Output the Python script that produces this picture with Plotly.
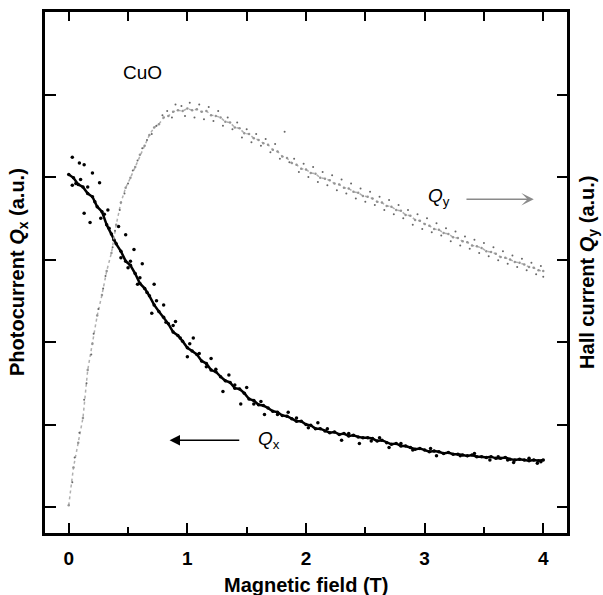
import numpy as np
import plotly.graph_objects as go

# Magnetic field sampling (T)
field_T = np.round(np.arange(0, 4.0001, 0.04), 2)

# Photocurrent Q_x (a.u.)
qx_values = [4.03, 3.99, 3.91, 3.88, 3.80, 3.76, 3.64, 3.58, 3.42, 3.31,
             3.19, 3.10, 2.98, 2.93, 2.83, 2.71, 2.65, 2.56, 2.45, 2.37,
             2.30, 2.22, 2.12, 2.08, 2.01, 1.93, 1.89, 1.85, 1.77, 1.74,
             1.66, 1.64, 1.58, 1.53, 1.51, 1.44, 1.43, 1.38, 1.31, 1.29,
             1.24, 1.23, 1.20, 1.16, 1.15, 1.11, 1.10, 1.07, 1.04, 1.04,
             1.00, 0.99, 0.95, 0.95, 0.92, 0.90, 0.91, 0.88, 0.89, 0.86,
             0.87, 0.85, 0.84, 0.84, 0.83, 0.80, 0.81, 0.78, 0.76, 0.77,
             0.74, 0.74, 0.72, 0.70, 0.71, 0.69, 0.67, 0.68, 0.67, 0.65,
             0.66, 0.64, 0.64, 0.63, 0.62, 0.63, 0.61, 0.61, 0.60, 0.61,
             0.59, 0.59, 0.60, 0.58, 0.57, 0.58, 0.57, 0.56, 0.57, 0.56,
             0.57]

# Scattered Q_x points around the main band
qx_scatter_x = [0.03, 0.09, 0.13, 0.20, 0.26, 0.03, 0.13, 0.33, 0.18, 0.30,
                0.42, 0.48, 0.55, 0.62, 0.50, 0.58, 0.72, 0.80, 0.70, 0.90,
                1.05, 1.00, 1.20, 1.35, 1.30, 1.50, 1.45, 1.65, 1.85, 2.10,
                2.30, 2.45, 2.70, 3.10, 3.55, 3.75, 3.95,
                0.06, 0.10, 0.16, 0.22, 0.27, 0.34, 0.38, 0.44, 0.52, 0.60,
                0.66, 0.74, 0.82, 0.88, 0.94, 1.02, 1.10, 1.16, 1.24, 1.40,
                1.56, 1.62, 1.76, 1.92, 2.02, 2.18, 2.36, 2.55, 2.62, 2.80,
                2.90, 3.05, 3.30, 3.42, 3.62, 3.70, 3.88, 3.98]
qx_scatter_y = [4.24, 4.17, 4.15, 4.05, 3.93, 3.90, 3.56, 3.60, 3.45, 3.55,
                3.40, 3.30, 3.12, 2.95, 2.90, 2.70, 2.70, 2.45, 2.35, 2.25,
                2.05, 1.82, 1.80, 1.60, 1.40, 1.45, 1.25, 1.12, 1.15, 1.02,
                0.81, 0.77, 0.72, 0.62, 0.57, 0.54, 0.53,
                3.92, 3.97, 3.88, 3.70, 3.50, 3.38, 3.24, 3.02, 2.98, 2.78,
                2.60, 2.50, 2.24, 2.20, 2.05, 1.98, 1.86, 1.70, 1.67, 1.48,
                1.25, 1.28, 1.12, 1.08, 0.96, 0.95, 0.89, 0.80, 0.84, 0.77,
                0.69, 0.71, 0.62, 0.65, 0.61, 0.57, 0.59, 0.55]

# Hall current Q_y (a.u.)
qy_values = [0.02, 0.48, 0.78, 1.08, 1.66, 1.98, 2.32, 2.57, 2.86, 3.08,
             3.42, 3.69, 3.87, 3.99, 4.12, 4.27, 4.38, 4.51, 4.60, 4.64,
             4.72, 4.74, 4.79, 4.81, 4.80, 4.83, 4.81, 4.82, 4.79, 4.80,
             4.75, 4.74, 4.72, 4.67, 4.66, 4.60, 4.59, 4.53, 4.52, 4.47,
             4.45, 4.41, 4.39, 4.33, 4.31, 4.25, 4.23, 4.17, 4.15, 4.10,
             4.09, 4.05, 4.04, 3.99, 3.98, 3.96, 3.92, 3.91, 3.87, 3.86,
             3.82, 3.81, 3.77, 3.76, 3.74, 3.70, 3.69, 3.65, 3.64, 3.60,
             3.59, 3.54, 3.53, 3.48, 3.47, 3.43, 3.41, 3.37, 3.36, 3.32,
             3.31, 3.27, 3.26, 3.22, 3.21, 3.17, 3.16, 3.14, 3.10, 3.09,
             3.07, 3.03, 3.02, 3.00, 2.97, 2.96, 2.94, 2.91, 2.90, 2.87,
             2.86]

# Scattered Q_y specks
qy_scatter_x = [0.03, 0.05, 0.09, 0.13, 0.15, 0.19, 0.21, 0.25, 0.29, 0.31,
                0.37, 0.39, 0.43, 0.47, 0.50, 0.54, 0.58, 0.62, 0.66, 0.70,
                0.74, 0.79, 0.83, 0.87, 0.90, 0.95, 0.98, 1.02, 1.06, 1.10,
                1.14, 1.18, 1.22, 1.26, 1.30, 1.34, 1.38, 1.42, 1.46, 1.50,
                1.54, 1.58, 1.62, 1.66, 1.70, 1.74, 1.78, 1.82, 1.86, 1.90,
                1.94, 1.98, 2.02, 2.06, 2.10, 2.14, 2.18, 2.22, 2.26, 2.30,
                2.34, 2.38, 2.42, 2.46, 2.50, 2.54, 2.58, 2.62, 2.66, 2.70,
                2.74, 2.78, 2.82, 2.86, 2.90, 2.94, 2.98, 3.02, 3.06, 3.10,
                3.14, 3.18, 3.22, 3.26, 3.30, 3.34, 3.38, 3.42, 3.46, 3.50,
                3.54, 3.58, 3.62, 3.66, 3.70, 3.74, 3.78, 3.82, 3.86, 3.90,
                3.94, 3.98, 4.00]
qy_scatter_y = [0.30, 0.60, 0.90, 1.30, 1.50, 1.85, 2.10, 2.40, 2.65, 2.80,
                3.15, 3.35, 3.60, 3.80, 3.92, 4.08, 4.20, 4.35, 4.45, 4.52,
                4.62, 4.75, 4.80, 4.72, 4.88, 4.86, 4.74, 4.90, 4.72, 4.88,
                4.70, 4.85, 4.68, 4.80, 4.62, 4.72, 4.58, 4.66, 4.48, 4.58,
                4.42, 4.52, 4.38, 4.46, 4.30, 4.40, 4.22, 4.55, 4.18, 4.22,
                4.06, 4.16, 4.00, 4.12, 3.94, 4.06, 3.90, 4.02, 3.84, 3.97,
                3.80, 3.92, 3.74, 3.86, 3.70, 3.82, 3.66, 3.76, 3.60, 3.72,
                3.55, 3.66, 3.50, 3.60, 3.42, 3.55, 3.37, 3.50, 3.33, 3.44,
                3.29, 3.38, 3.22, 3.34, 3.17, 3.28, 3.13, 3.24, 3.08, 3.20,
                3.04, 3.15, 2.99, 3.10, 2.95, 3.05, 2.91, 3.01, 2.87, 2.96,
                2.82, 2.92, 2.79]

x_ticks = [0, 1, 2, 3, 4]
y_ticks = [0, 1, 2, 3, 4, 5]

FONT = "Liberation Sans, Arial, sans-serif"

fig = go.Figure()

fig.add_trace(go.Scatter(x=field_T, y=qy_values, mode="lines+markers",
                         line=dict(color="#b0b0b0", width=1.5, dash="dot"),
                         marker=dict(color="#959595", size=2.5),
                         yaxis="y2", showlegend=False, hoverinfo="skip"))
fig.add_trace(go.Scatter(x=qy_scatter_x, y=qy_scatter_y, mode="markers",
                         marker=dict(color="#666666", size=2),
                         yaxis="y2", showlegend=False, hoverinfo="skip"))
fig.add_trace(go.Scatter(x=field_T, y=qx_values, mode="lines+markers",
                         line=dict(color="black", width=2.5),
                         marker=dict(color="black", size=3.5),
                         showlegend=False, hoverinfo="skip"))
fig.add_trace(go.Scatter(x=qx_scatter_x, y=qx_scatter_y, mode="markers",
                         marker=dict(color="black", size=3.5),
                         showlegend=False, hoverinfo="skip"))

XR = [-0.2, 4.2]
YR = [-0.315, 6.0]

fig.update_layout(
    width=603, height=595,
    margin=dict(l=45, r=36, t=12, b=62),
    paper_bgcolor="white", plot_bgcolor="white",
    font=dict(family=FONT, color="black", size=20),
    xaxis=dict(range=XR, tickvals=x_ticks, ticks="inside", ticklen=10, tickwidth=2,
               tickcolor="black", showline=True, linewidth=2.5, linecolor="black",
               showgrid=False, zeroline=False, ticklabelstandoff=6,
               tickfont=dict(family=FONT, size=19, color="black", weight="bold"),
               minor=dict(dtick=0.5, tick0=0, ticks="inside", ticklen=6, tickwidth=2,
                          tickcolor="black", showgrid=False)),
    xaxis2=dict(range=XR, overlaying="x", side="top", dtick=0.5, tick0=0,
                ticks="inside", ticklen=9, tickwidth=2, tickcolor="black",
                showline=True, linewidth=2.5, linecolor="black",
                showticklabels=False, showgrid=False, zeroline=False),
    yaxis=dict(range=YR, tickvals=y_ticks, ticks="inside", ticklen=11, tickwidth=2,
               tickcolor="black", showline=True, linewidth=2.5, linecolor="black",
               showticklabels=False, showgrid=False, zeroline=False),
    yaxis2=dict(range=YR, tickvals=y_ticks, overlaying="y", side="right",
                ticks="inside", ticklen=10, tickwidth=2, tickcolor="black",
                showline=True, linewidth=2.5, linecolor="black",
                showticklabels=False, showgrid=False, zeroline=False),
)

title_font = dict(family=FONT, size=20, color="black", weight="bold")
anns = [
    dict(text="Magnetic field (T)", xref="paper", yref="paper", x=0.5, y=-0.1228,
         xanchor="center", yanchor="bottom", borderpad=0, showarrow=False, font=title_font),
    dict(text="Photocurrent <i>Q</i><sub>x</sub> (a.u.)", xref="paper", yref="paper",
         x=-0.0498, y=0.501, textangle=-90, xanchor="center", yanchor="middle",
         showarrow=False, font=title_font),
    dict(text="Hall current <i>Q</i><sub>y</sub> (a.u.)", xref="paper", yref="paper",
         x=1.042, y=0.501, textangle=-90, xanchor="center", yanchor="middle",
         showarrow=False, font=title_font),
    dict(text="CuO", xref="x", yref="y", x=0.62, y=5.27, showarrow=False,
         font=dict(family=FONT, size=19, color="black")),
    dict(text="<i>Q</i><sub>x</sub>", xref="x", yref="y", x=1.69, y=0.81, showarrow=False,
         font=dict(family=FONT, size=19, color="black")),
    dict(text="<i>Q</i><sub>y</sub>", xref="x2", yref="y2", x=3.12, y=3.76, showarrow=False,
         font=dict(family=FONT, size=19, color="black")),
    dict(text="", xref="x", yref="y", x=0.85, y=0.81, axref="x", ayref="y",
         ax=1.45, ay=0.81, showarrow=True, arrowhead=2, arrowsize=1.3, arrowwidth=1.6,
         arrowcolor="black"),
    dict(text="", xref="x", yref="y", x=3.92, y=3.73, axref="x", ayref="y",
         ax=3.34, ay=3.73, showarrow=True, arrowhead=3, arrowsize=1.3, arrowwidth=1.6,
         arrowcolor="#8a8a8a"),
]
fig.update_layout(annotations=anns)

fig.write_html("out.html")
